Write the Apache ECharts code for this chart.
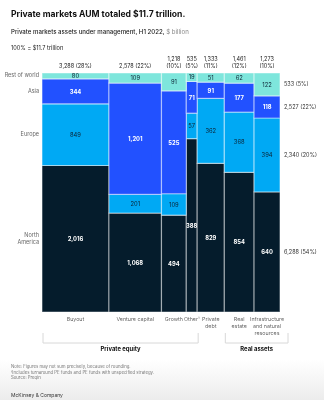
<!DOCTYPE html>
<html>
<head>
<meta charset="utf-8">
<script src="https://cdn.jsdelivr.net/npm/echarts@6/dist/echarts.min.js"></script>
<style>
html,body{margin:0;padding:0;width:324px;height:400px;overflow:hidden;
background:linear-gradient(to bottom,#ffffff 0%,#ffffff 90%,#ececec 100%);}
#c{width:324px;height:400px;}
</style>
</head>
<body>
<div id="c"></div>
<script>
// ---- data ----
const categories = ['Buyout','Venture capital','Growth','Other¹','Private\ndebt','Real\nestate','Infrastructure\nand natural\nresources'];
const columnTotals = [3288, 2578, 1218, 535, 1333, 1461, 1273];
const columnTotalLabels = ['3,288 (28%)','2,578 (22%)','1,218\n(10%)','535\n(5%)','1,333\n(11%)','1,461\n(12%)','1,273\n(10%)'];
const regions = ['North America','Europe','Asia','Rest of world'];
const regionLabels = ['North\nAmerica','Europe','Asia','Rest of world'];
const regionTotalLabels = ['6,288 (54%)','2,340 (20%)','2,527 (22%)','533 (5%)'];
const northAmerica = [2016, 1068, 494, 388, 829, 854, 640];
const europe       = [849, 201, 109, 57, 362, 368, 394];
const asia         = [344, 1201, 525, 71, 91, 177, 118];
const restOfWorld  = [80, 109, 91, 19, 51, 62, 122];
const groups = [{name:'Private equity', from:0, to:3}, {name:'Real assets', from:5, to:6}];

// ---- styles ----
const regionColors = ['#051c2c','#00a9f4','#2251ff','#7ee6dc'];
const regionTextColors = ['#ffffff','#0b2233','#ffffff','#0b2233'];
const FONT = 'Inter, Roboto, "Noto Sans", sans-serif';

const seriesValues = [northAmerica, europe, asia, restOfWorld];
const grand = columnTotals.reduce((a,b)=>a+b,0);
const xStarts = [];
{ let acc = 0; columnTotals.forEach(v => { xStarts.push(acc); acc += v; }); }

function buildData(ri){
  return categories.map((c, ci) => {
    const colSum = seriesValues.reduce((s, arr) => s + arr[ci], 0);
    let below = 0;
    for (let k = 0; k < ri; k++) below += seriesValues[k][ci];
    const v = seriesValues[ri][ci];
    return [xStarts[ci], xStarts[ci] + columnTotals[ci], below / colSum, (below + v) / colSum, v, ci];
  });
}

function makeRender(ri){
  return function(params, api){
    const ci = api.value(5);
    const p0 = api.coord([api.value(0), api.value(3)]);
    const p1 = api.coord([api.value(1), api.value(2)]);
    const x = p0[0], y = p0[1], w = p1[0] - p0[0], h = p1[1] - p0[1];
    const children = [{
      type:'rect', shape:{x:x, y:y, width:w, height:h},
      style:{fill:regionColors[ri], stroke:'rgba(255,255,255,0.45)', lineWidth:1.2}
    },{
      type:'text', z2:10,
      style:{text:api.value(4).toLocaleString('en-US'), x:x + w/2, y:y + h/2 + 0.5,
        align:'center', verticalAlign:'middle', fill:regionTextColors[ri],
        fontSize:5.8, fontWeight: (ri===0||ri===2)?'bold':'normal', fontFamily:FONT}
    }];
    if (ri === 3) {
      children.push({type:'text', style:{text:columnTotalLabels[ci], x:x + w/2, y:y - 3,
        align:'center', verticalAlign:'bottom', fill:'#222', fontSize:5.5, lineHeight:7, fontFamily:FONT}});
    }
    if (ri === 0) {
      children.push({type:'text', style:{text:categories[ci], x:x + w/2, y:y + h + 3.5,
        align:'center', verticalAlign:'top', fill:'#666', fontSize:5.3, lineHeight:7, fontFamily:FONT}});
    }
    if (ci === 0) {
      children.push({type:'text', style:{text:regionLabels[ri], x:x - 3, y: ri===3 ? y + 2 : y + h/2,
        align:'right', verticalAlign:'middle', fill:'#666', fontSize:5.5, lineHeight:7, fontFamily:FONT}});
    }
    if (ci === categories.length - 1) {
      children.push({type:'text', style:{text:regionTotalLabels[ri], x:x + w + 4, y:y + h/2,
        align:'left', verticalAlign:'middle', fill:'#333', fontSize:5.5, fontFamily:FONT}});
    }
    return {type:'group', children:children};
  };
}

const chart = echarts.init(document.getElementById('c'), null, {renderer:'canvas'});
const option = {
  backgroundColor:'transparent',
  animation:false,
  title:[
    {text:'Private markets AUM totaled $11.7 trillion.', left:6, top:5,
      textStyle:{fontSize:8.6, fontWeight:'bold', color:'#111', fontFamily:FONT}},
    {text:'{a|Private markets assets under management, H1 2022, }{b|$ billion}', left:6, top:24,
      textStyle:{rich:{a:{fontSize:6.1, fontWeight:500, color:'#222', fontFamily:FONT}, b:{fontSize:6.1, fontWeight:'normal', color:'#888', fontFamily:FONT}}}},
    {text:'100% = $11.7 trillion', left:6, top:40, textStyle:{fontSize:5.6, color:'#222', fontWeight:'normal', fontFamily:FONT}},
    {text:'Note: Figures may not sum precisely, because of rounding.\n¹Includes turnaround PE funds and PE funds with unspecified strategy.\nSource: Preqin',
      left:6, top:359, textStyle:{fontSize:4.3, lineHeight:5.6, color:'#777', fontWeight:'normal', fontFamily:FONT}},
    {text:'McKinsey & Company', left:6, top:388, textStyle:{fontSize:5, color:'#333', fontWeight:'normal', fontFamily:FONT}}
  ],
  grid:{left:42, right:44, top:73, bottom:88},
  xAxis:{type:'value', min:0, max:grand, show:false},
  yAxis:{type:'value', min:0, max:1, show:false},
  series: regions.map((r, ri) => ({
    type:'custom', name:r, clip:false,
    renderItem: makeRender(ri),
    encode:{x:[0,1], y:[2,3]},
    data: buildData(ri)
  }))
};
chart.setOption(option);

// brackets under the category groups
const bottomY = chart.convertToPixel({gridIndex:0}, [0, 0])[1];
const graphics = [];
groups.forEach((g, gi) => {
  let x0 = chart.convertToPixel({gridIndex:0}, [xStarts[g.from], 0])[0] + 1;
  let x1 = chart.convertToPixel({gridIndex:0}, [xStarts[g.to] + columnTotals[g.to], 0])[0] + (gi === 1 ? 8 : 1);
  const yTop = bottomY + 21, yBot = bottomY + 31;
  graphics.push({type:'polyline', silent:true, shape:{points:[[x0,yTop],[x0,yBot],[x1,yBot],[x1,yTop]]},
    style:{stroke:'#d8d8d8', lineWidth:1, fill:null}});
  graphics.push({type:'text', silent:true, style:{text:g.name, x:(x0+x1)/2, y:yBot + 3, align:'center', verticalAlign:'top',
    fill:'#111', fontSize:5.9, fontWeight:'bold', fontFamily:FONT}});
});
chart.setOption({graphic:graphics});
</script>
</body>
</html>
